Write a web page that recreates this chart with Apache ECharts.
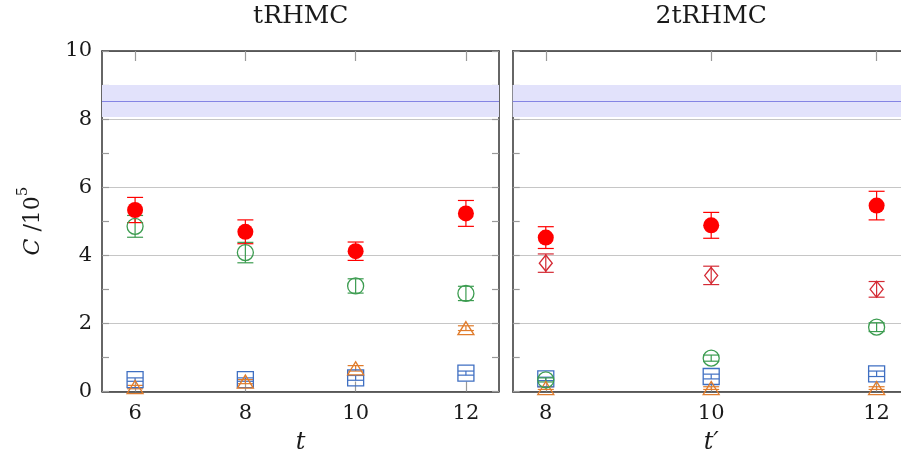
<!DOCTYPE html>
<html>
<head>
<meta charset="utf-8">
<script src="https://cdn.jsdelivr.net/npm/echarts@6/dist/echarts.min.js"></script>
<style>
  html, body { margin: 0; padding: 0; background: #fff; }
  #chart { width: 901px; height: 463px; }
</style>
</head>
<body>
<div id="chart"></div>
<script>
// Panel titles and axis ticks
const panelTitles = ['tRHMC', '2tRHMC'];
const tLeft = [6, 8, 10, 12];
const tRight = [8, 10, 12];

// Reference value with its uncertainty band
const bandMid = 8.53;
const bandHalf = 0.47;

// tRHMC panel (value, error)
const redL = [5.33, 4.69, 4.12, 5.23];
const redLErr = [0.37, 0.35, 0.27, 0.38];
const greenL = [4.85, 4.08, 3.10, 2.88];
const greenLErr = [0.32, 0.30, 0.21, 0.21];
const orangeL = [0.13, 0.29, 0.68, 1.86];
const orangeLErr = [0.05, 0.06, 0.08, 0.07];
const blueL = [0.35, 0.35, 0.40, 0.54];
const blueLErr = [0.05, 0.05, 0.07, 0.06];

// 2tRHMC panel (value, error)
const redR = [4.52, 4.88, 5.46];
const redRErr = [0.32, 0.38, 0.42];
const diamR = [3.77, 3.41, 3.00];
const diamRErr = [0.27, 0.27, 0.23];
const greenR = [0.34, 0.98, 1.89];
const greenRErr = [0.06, 0.09, 0.13];
const blueR = [0.37, 0.44, 0.52];
const blueRErr = [0.05, 0.07, 0.08];
const orangeR = [0.10, 0.10, 0.10];
const orangeRErr = [0.04, 0.04, 0.04];

const FONT = 'DejaVu Serif';
const TEXT = '#1a1a1a';
const FRAME = { color: '#333', width: 1.5 };
const TICK = { color: '#999', width: 1.2 };

const C_RED = '#ff0000';
const C_DIAM = '#d42a34';
const C_GREEN = '#3c9c50';
const C_ORANGE = '#e07c2c';
const C_BLUE = '#3f6fc2';

function errorBars(xs, ys, es, color, xi, yi) {
  return {
    type: 'custom',
    xAxisIndex: xi,
    yAxisIndex: yi,
    silent: true,
    z: 2,
    data: xs.map((x, i) => [x, ys[i], es[i]]),
    renderItem: (params, api) => {
      const x = api.value(0), y = api.value(1), e = api.value(2);
      const top = api.coord([x, y + e]);
      const bot = api.coord([x, y - e]);
      const hw = 8;
      const style = { stroke: color, lineWidth: 1.2, fill: null };
      return {
        type: 'group',
        children: [
          { type: 'line', shape: { x1: top[0], y1: top[1], x2: bot[0], y2: bot[1] }, style },
          { type: 'line', shape: { x1: top[0] - hw, y1: top[1], x2: top[0] + hw, y2: top[1] }, style },
          { type: 'line', shape: { x1: bot[0] - hw, y1: bot[1], x2: bot[0] + hw, y2: bot[1] }, style }
        ]
      };
    }
  };
}

function points(xs, ys, symbol, size, color, filled, xi, yi, extra) {
  const s = {
    type: 'scatter',
    xAxisIndex: xi,
    yAxisIndex: yi,
    symbol: symbol,
    symbolSize: size,
    z: 3,
    silent: true,
    data: xs.map((x, i) => [x, ys[i]]),
    itemStyle: filled
      ? { color: color, opacity: 1 }
      : { color: 'rgba(0,0,0,0)', borderColor: color, borderWidth: 1.3, opacity: 1 }
  };
  return Object.assign(s, extra || {});
}

function band() {
  return {
    markArea: {
      silent: true,
      itemStyle: { color: '#e2e2fb' },
      data: [[{ yAxis: bandMid - bandHalf }, { yAxis: bandMid + bandHalf }]]
    },
    markLine: {
      silent: true,
      symbol: 'none',
      label: { show: false },
      lineStyle: { color: '#8484e4', width: 1.2, type: 'solid' },
      data: [{ yAxis: bandMid }]
    }
  };
}

function xAxes(gridIndex, min, max, ticks, name) {
  const common = {
    gridIndex, type: 'value', min, max,
    axisLine: { onZero: false, lineStyle: FRAME },
    axisTick: { inside: true, length: 10, customValues: ticks, lineStyle: TICK },
    splitLine: { show: false }
  };
  return [
    Object.assign({}, common, {
      position: 'bottom',
      axisLabel: { customValues: ticks, margin: 12, fontFamily: FONT, fontSize: 21, color: TEXT },
      name: name, nameLocation: 'middle', nameGap: 39,
      nameTextStyle: { fontFamily: FONT, fontStyle: 'italic', fontSize: 24, color: TEXT }
    }),
    Object.assign({}, common, { position: 'top', axisLabel: { show: false } })
  ];
}

function yAxes(gridIndex, labels) {
  const common = {
    gridIndex, type: 'value', min: 0, max: 10, interval: 2,
    axisLine: { onZero: false, lineStyle: FRAME },
    axisTick: { inside: true, length: 7, lineStyle: TICK },
    minorTick: { show: true, splitNumber: 2, length: 7, lineStyle: TICK }
  };
  return [
    Object.assign({}, common, {
      position: 'left',
      axisLabel: { show: labels, margin: 10, fontFamily: FONT, fontSize: 21, color: TEXT },
      splitLine: { show: true, lineStyle: { color: '#c6c6c6', width: 1 } }
    }),
    Object.assign({}, common, {
      position: 'right',
      axisLabel: { show: false },
      splitLine: { show: false }
    })
  ];
}

const series = [
  // tRHMC
  points([], [], 'circle', 1, C_BLUE, true, 0, 0, band()),
  errorBars(tLeft, blueL, blueLErr, C_BLUE, 0, 0),
  points(tLeft, blueL, 'rect', 16, C_BLUE, false, 0, 0),
  errorBars(tLeft, orangeL, orangeLErr, C_ORANGE, 0, 0),
  points(tLeft, orangeL, 'triangle', [16, 13], C_ORANGE, false, 0, 0),
  errorBars(tLeft, greenL, greenLErr, C_GREEN, 0, 0),
  points(tLeft, greenL, 'circle', 16, C_GREEN, false, 0, 0),
  errorBars(tLeft, redL, redLErr, C_RED, 0, 0),
  points(tLeft, redL, 'circle', 16, C_RED, true, 0, 0),
  // 2tRHMC
  points([], [], 'circle', 1, C_BLUE, true, 2, 2, band()),
  errorBars(tRight, blueR, blueRErr, C_BLUE, 2, 2),
  points(tRight, blueR, 'rect', 16, C_BLUE, false, 2, 2),
  errorBars(tRight, orangeR, orangeRErr, C_ORANGE, 2, 2),
  points(tRight, orangeR, 'triangle', [16, 13], C_ORANGE, false, 2, 2),
  errorBars(tRight, greenR, greenRErr, C_GREEN, 2, 2),
  points(tRight, greenR, 'circle', 16, C_GREEN, false, 2, 2),
  errorBars(tRight, diamR, diamRErr, C_DIAM, 2, 2),
  points(tRight, diamR, 'diamond', [13, 16], C_DIAM, false, 2, 2),
  errorBars(tRight, redR, redRErr, C_RED, 2, 2),
  points(tRight, redR, 'circle', 16, C_RED, true, 2, 2)
];

const chart = echarts.init(document.getElementById('chart'), null, { renderer: 'canvas' });
chart.setOption({
  animation: false,
  backgroundColor: '#ffffff',
  grid: [
    { left: 102, top: 51, width: 397, height: 340.5, containLabel: false, outerBoundsMode: 'none' },
    { left: 512.7, top: 51, width: 397, height: 340.5, containLabel: false, outerBoundsMode: 'none' }
  ],
  xAxis: [
    ...xAxes(0, 5.4, 12.6, tLeft, 't'),
    ...xAxes(1, 7.6, 12.4, tRight, 't\u2032')
  ],
  yAxis: [
    ...yAxes(0, true),
    ...yAxes(1, false)
  ],
  graphic: [
    { type: 'text', x: 300.8, y: 16.5, style: { text: panelTitles[0], fontFamily: FONT, fontSize: 25, fill: TEXT, textAlign: 'center', textVerticalAlign: 'middle' } },
    { type: 'text', x: 711.2, y: 16.5, style: { text: panelTitles[1], fontFamily: FONT, fontSize: 25, fill: TEXT, textAlign: 'center', textVerticalAlign: 'middle' } },
    {
      type: 'text', x: 30, y: 221, rotation: Math.PI / 2,
      style: {
        text: '{i|C} {n|/10}{s|5}',
        textAlign: 'center', textVerticalAlign: 'middle',
        fontFamily: FONT, fontSize: 22, fill: TEXT,
        rich: {
          i: { fontFamily: FONT, fontStyle: 'italic', fontSize: 22, lineHeight: 28, verticalAlign: 'bottom', fill: TEXT },
          n: { fontFamily: FONT, fontSize: 22, lineHeight: 28, verticalAlign: 'bottom', fill: TEXT },
          s: { fontFamily: FONT, fontSize: 15, lineHeight: 28, verticalAlign: 'top', fill: TEXT }
        }
      }
    }
  ],
  series: series
});
</script>
</body>
</html>
